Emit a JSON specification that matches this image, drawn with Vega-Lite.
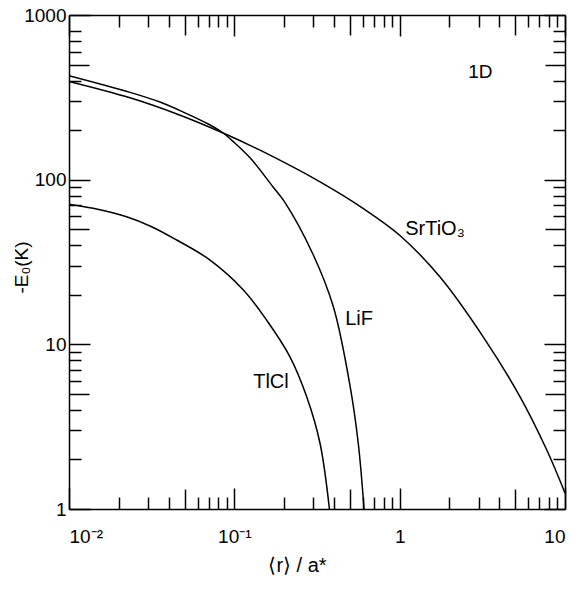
{
  "$schema": "https://vega.github.io/schema/vega-lite/v6.json",
  "width": 496,
  "height": 494,
  "autosize": {"type": "none"},
  "padding": {"left": 69, "top": 15, "right": 4, "bottom": 82},
  "background": "white",
  "config": {"view": {"stroke": null}, "font": "Liberation Sans"},
  "datasets": {
    "curves": [
      {"material": "LiF", "r": 0.01, "E": 428},
      {"material": "LiF", "r": 0.0234, "E": 339},
      {"material": "LiF", "r": 0.0355, "E": 296},
      {"material": "LiF", "r": 0.0501, "E": 255},
      {"material": "LiF", "r": 0.07, "E": 217},
      {"material": "LiF", "r": 0.0855, "E": 192},
      {"material": "LiF", "r": 0.1, "E": 168},
      {"material": "LiF", "r": 0.126, "E": 134},
      {"material": "LiF", "r": 0.172, "E": 90},
      {"material": "LiF", "r": 0.2, "E": 74},
      {"material": "LiF", "r": 0.3, "E": 35},
      {"material": "LiF", "r": 0.398, "E": 16.8},
      {"material": "LiF", "r": 0.501, "E": 5.6},
      {"material": "LiF", "r": 0.562, "E": 2.5},
      {"material": "LiF", "r": 0.609, "E": 1},
      {"material": "SrTiO3", "r": 0.01, "E": 395},
      {"material": "SrTiO3", "r": 0.0234, "E": 314},
      {"material": "SrTiO3", "r": 0.0466, "E": 247},
      {"material": "SrTiO3", "r": 0.0855, "E": 192},
      {"material": "SrTiO3", "r": 0.143, "E": 151},
      {"material": "SrTiO3", "r": 0.33, "E": 97},
      {"material": "SrTiO3", "r": 0.6, "E": 67},
      {"material": "SrTiO3", "r": 1.0, "E": 46},
      {"material": "SrTiO3", "r": 1.75, "E": 25.7},
      {"material": "SrTiO3", "r": 3.2, "E": 11.1},
      {"material": "SrTiO3", "r": 5.35, "E": 4.8},
      {"material": "SrTiO3", "r": 7.76, "E": 2.28},
      {"material": "SrTiO3", "r": 10, "E": 1.25},
      {"material": "TlCl", "r": 0.01, "E": 71},
      {"material": "TlCl", "r": 0.014, "E": 67},
      {"material": "TlCl", "r": 0.0223, "E": 59.5},
      {"material": "TlCl", "r": 0.0316, "E": 51.8},
      {"material": "TlCl", "r": 0.0448, "E": 43},
      {"material": "TlCl", "r": 0.0713, "E": 32.5},
      {"material": "TlCl", "r": 0.1134, "E": 21.4},
      {"material": "TlCl", "r": 0.157, "E": 14.0},
      {"material": "TlCl", "r": 0.217, "E": 8.4},
      {"material": "TlCl", "r": 0.274, "E": 4.8},
      {"material": "TlCl", "r": 0.33, "E": 2.5},
      {"material": "TlCl", "r": 0.376, "E": 1}
    ],
    "labels": [
      {"label": "SrTiO₃", "r": 1.08, "E": 50, "size": 20},
      {"label": "LiF", "r": 0.468, "E": 14.2, "size": 20},
      {"label": "TlCl", "r": 0.13, "E": 5.93, "size": 20},
      {"label": "1D", "r": 2.6, "E": 452, "size": 19}
    ]
  },
  "layer": [
    {
      "data": {"name": "curves"},
      "mark": {"type": "line", "color": "black", "strokeWidth": 1.5, "interpolate": "catmull-rom", "clip": true},
      "encoding": {
        "x": {
          "field": "r", "type": "quantitative",
          "scale": {"type": "log", "domain": [0.01, 10], "nice": false},
          "axis": {
            "orient": "bottom",
            "values": [0.01, 0.02, 0.03, 0.04, 0.05, 0.06, 0.07, 0.08, 0.09, 0.1, 0.2, 0.3, 0.4, 0.5, 0.6, 0.7, 0.8, 0.9, 1, 2, 3, 4, 5, 6, 7, 8, 9, 10],
            "grid": false,
            "domainColor": "black", "domainWidth": 1.5,
            "tickColor": "black", "tickWidth": 1.5,
            "tickSize": {"condition": [
              {"test": "indexof([0.01, 0.1, 1, 10], datum.value) >= 0", "value": -21},
              {"test": "indexof([0.05, 0.5, 5], datum.value) >= 0", "value": -20}
            ], "value": -12},
            "labelExpr": "datum.value == 0.01 ? '10⁻²' : datum.value == 0.1 ? '10⁻¹' : datum.value == 1 ? '1' : datum.value == 10 ? '10' : ''",
            "labelOverlap": false,
            "labelFlush": true,
            "labelBaseline": "alphabetic",
            "labelPadding": 54,
            "labelFontSize": 19,
            "labelColor": "black",
            "labelFont": "Liberation Sans",
            "title": "⟨r⟩ / a*",
            "titleFont": "Liberation Sans",
            "titleFontSize": 20,
            "titleFontWeight": "normal",
            "titleColor": "black",
            "titleX": 228,
            "titleY": 62,
            "titleAlign": "center",
            "titleBaseline": "alphabetic"
          }
        },
        "y": {
          "field": "E", "type": "quantitative",
          "scale": {"type": "log", "domain": [1, 1000], "nice": false},
          "axis": {
            "orient": "left",
            "values": [1, 2, 3, 4, 5, 6, 7, 8, 9, 10, 20, 30, 40, 50, 60, 70, 80, 90, 100, 200, 300, 400, 500, 600, 700, 800, 1000],
            "grid": false,
            "domainColor": "black", "domainWidth": 1.5,
            "tickColor": "black", "tickWidth": 1.5,
            "tickSize": {"condition": [
              {"test": "indexof([1, 10, 100, 1000], datum.value) >= 0", "value": -21},
              {"test": "indexof([5, 50, 500], datum.value) >= 0", "value": -20}
            ], "value": -12},
            "labelExpr": "datum.value == 1 ? '1' : datum.value == 10 ? '10' : datum.value == 100 ? '100' : datum.value == 1000 ? '1000' : ''",
            "labelOverlap": false,
            "labelFlush": false,
            "labelBaseline": "middle",
            "labelPadding": 24,
            "labelFontSize": 19,
            "labelColor": "black",
            "labelFont": "Liberation Sans",
            "title": "-E₀(K)",
            "titleFont": "Liberation Sans",
            "titleFontSize": 19,
            "titleFontWeight": "normal",
            "titleColor": "black",
            "titleAngle": 270,
            "titleX": -42,
            "titleY": 252,
            "titleAlign": "center",
            "titleBaseline": "alphabetic"
          }
        },
        "detail": {"field": "material", "type": "nominal"}
      }
    },
    {
      "data": {"name": "labels"},
      "mark": {"type": "text", "align": "left", "baseline": "middle", "font": "Liberation Sans", "color": "black"},
      "encoding": {
        "x": {
          "field": "r", "type": "quantitative",
          "axis": {
            "orient": "top",
            "values": [0.01, 0.02, 0.03, 0.04, 0.05, 0.06, 0.07, 0.08, 0.09, 0.1, 0.2, 0.3, 0.4, 0.5, 0.6, 0.7, 0.8, 0.9, 1, 2, 3, 4, 5, 6, 7, 8, 9, 10],
            "grid": false,
            "labels": false,
            "title": null,
            "domainColor": "black", "domainWidth": 1.5,
            "tickColor": "black", "tickWidth": 1.5,
            "tickSize": {"condition": [
              {"test": "indexof([0.01, 0.1, 1, 10], datum.value) >= 0", "value": -21},
              {"test": "indexof([0.05, 0.5, 5], datum.value) >= 0", "value": -20}
            ], "value": -12}
          }
        },
        "y": {
          "field": "E", "type": "quantitative",
          "axis": {
            "orient": "right",
            "values": [1, 2, 3, 4, 5, 6, 7, 8, 9, 10, 20, 30, 40, 50, 60, 70, 80, 90, 100, 200, 300, 400, 500, 600, 700, 800, 1000],
            "grid": false,
            "labels": false,
            "title": null,
            "domainColor": "black", "domainWidth": 1.5,
            "tickColor": "black", "tickWidth": 1.5,
            "tickSize": {"condition": [
              {"test": "indexof([1, 10, 100, 1000], datum.value) >= 0", "value": -21},
              {"test": "indexof([5, 50, 500], datum.value) >= 0", "value": -20}
            ], "value": -12}
          }
        },
        "text": {"field": "label", "type": "nominal"},
        "size": {"field": "size", "type": "quantitative", "scale": null, "legend": null}
      }
    }
  ],
  "resolve": {"axis": {"x": "independent", "y": "independent"}}
}
